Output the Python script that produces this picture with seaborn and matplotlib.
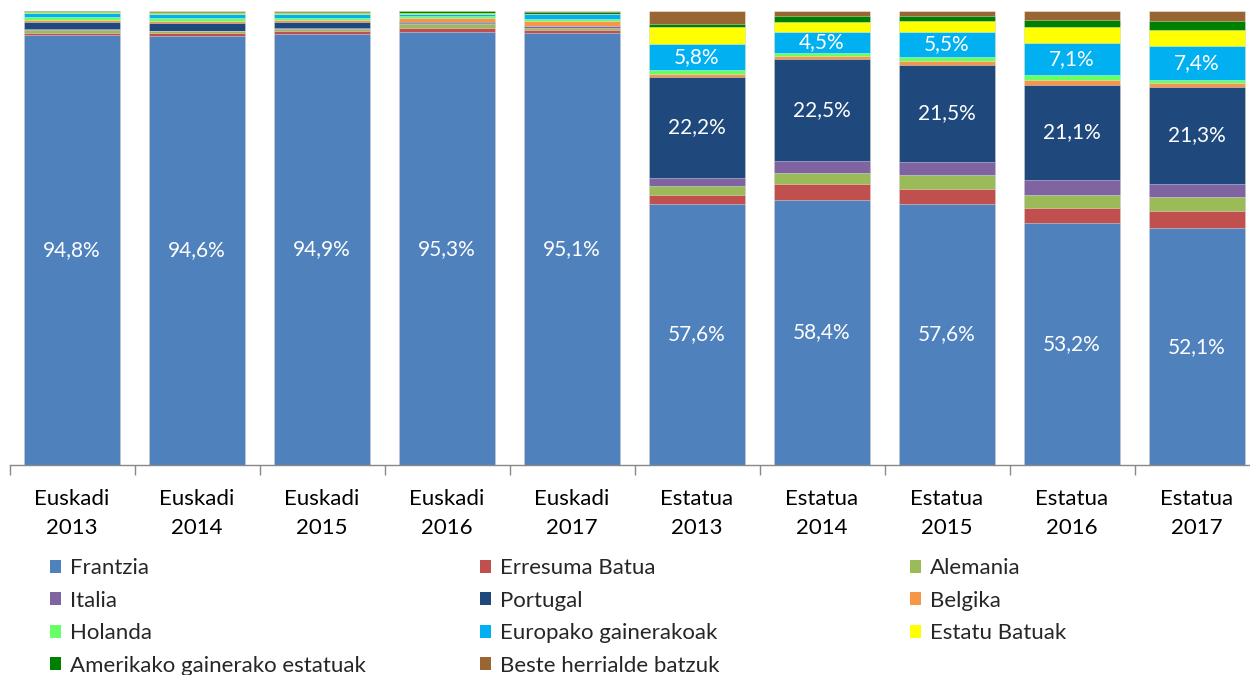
import numpy as np
import pandas as pd
import matplotlib
matplotlib.use("Agg")
import matplotlib.pyplot as plt
import matplotlib.patches as mpatches
import seaborn as sns

# Categories (region / year)
categories = ["Euskadi\n2013", "Euskadi\n2014", "Euskadi\n2015", "Euskadi\n2016", "Euskadi\n2017",
              "Estatua\n2013", "Estatua\n2014", "Estatua\n2015", "Estatua\n2016", "Estatua\n2017"]

# Share of each origin country (%), one value per category
frantzia = [94.8, 94.6, 94.9, 95.3, 95.1, 57.6, 58.4, 57.6, 53.2, 52.1]
erresuma_batua = [0.4, 0.5, 0.6, 1.0, 0.7, 1.8, 3.4, 3.3, 3.4, 3.9]
alemania = [0.6, 0.4, 0.6, 0.8, 0.5, 2.0, 2.6, 2.9, 2.8, 3.0]
italia = [0.2, 0.2, 0.2, 0.3, 0.3, 1.9, 2.5, 2.9, 3.3, 3.0]
portugal = [1.5, 1.6, 1.3, 0.2, 0.2, 22.2, 22.5, 21.5, 21.1, 21.3]
belgika = [0.6, 0.6, 0.4, 0.9, 0.9, 0.7, 0.7, 0.8, 1.1, 0.9]
holanda = [0.5, 0.5, 0.5, 0.4, 0.6, 0.7, 0.7, 0.9, 1.0, 0.7]
europako_gainerakoak = [1.0, 1.0, 0.8, 0.5, 1.0, 5.8, 4.5, 5.5, 7.1, 7.4]
estatu_batuak = [0.2, 0.2, 0.3, 0.2, 0.1, 3.7, 2.3, 2.3, 3.4, 3.5]
amerikako_gainerakoak = [0.1, 0.2, 0.2, 0.3, 0.4, 0.7, 1.2, 1.1, 1.6, 1.9]
beste_herrialdeak = [0.1, 0.2, 0.2, 0.1, 0.2, 2.9, 1.2, 1.2, 2.0, 2.2]

series_names = ["Frantzia", "Erresuma Batua", "Alemania", "Italia", "Portugal", "Belgika",
                "Holanda", "Europako gainerakoak", "Estatu Batuak",
                "Amerikako gainerako estatuak", "Beste herrialde batzuk"]
series_values = [frantzia, erresuma_batua, alemania, italia, portugal, belgika,
                 holanda, europako_gainerakoak, estatu_batuak,
                 amerikako_gainerakoak, beste_herrialdeak]
series_colors = ["#4F81BD", "#C0504D", "#9BBB59", "#8064A2", "#1F497D", "#F79646",
                 "#66FF66", "#00B0F0", "#FFFF00", "#008000", "#996633"]

# Segments that carry a value label
labelled_series = {"Frantzia": range(10), "Portugal": range(5, 10),
                   "Europako gainerakoak": range(5, 10)}

sns.set_theme(style="white")
plt.rcParams["font.family"] = ["Lato", "DejaVu Sans"]

fig = plt.figure(figsize=(12.5, 6.75), dpi=100)
ax = fig.add_axes([0.0076, 0.3111, 1.0, 0.6726])

vals = np.array(series_values)
cum = np.cumsum(vals, axis=0)

# Stack: draw the tallest cumulative bar first, then each lower layer on top of it
for i in range(len(series_names) - 1, -1, -1):
    df = pd.DataFrame({"cat": categories, "top": cum[i]})
    sns.barplot(data=df, x="cat", y="top", order=categories, color=series_colors[i],
                saturation=1, width=0.77, edgecolor=(1, 1, 1, 0.45), linewidth=0.6,
                ax=ax, errorbar=None)

# Value labels in the middle of the segments
for i, name in enumerate(series_names):
    if name in labelled_series:
        for j in labelled_series[name]:
            v = vals[i, j]
            ax.text(j, cum[i, j] - v / 2, f"{v:.1f}%".replace(".", ","),
                    ha="center", va="center", color="white", fontsize=15)

ax.set_ylim(0, 100)
ax.set_xlim(-0.5, len(categories) - 0.5)
ax.set_xlabel("")
ax.set_ylabel("")
ax.set_yticks([])
for side in ["top", "right", "left"]:
    ax.spines[side].set_visible(False)
ax.spines["bottom"].set_color("#888888")
ax.spines["bottom"].set_linewidth(1.0)

ax.set_xticks(range(len(categories)))
ax.set_xticklabels(categories, fontsize=16, color="black", linespacing=1.55)
ax.tick_params(axis="x", which="major", length=0, pad=17.5)
ax.set_xticks(np.arange(-0.5, len(categories), 1.0), minor=True)
ax.tick_params(axis="x", which="minor", length=7, width=1.0, color="#888888", direction="out")
ax.tick_params(axis="x", which="minor", bottom=True)

# Legend laid out in three columns, filled row by row
handles = [mpatches.Patch(facecolor=c, edgecolor="none", label=n)
           for n, c in zip(series_names, series_colors)]
col_x = [0.040, 0.384, 0.728]
for c in range(3):
    idx = list(range(c, len(handles), 3))
    fig.legend(handles=[handles[k] for k in idx], loc="upper left",
               bbox_to_anchor=(col_x[c], 0.173), frameon=False,
               fontsize=16, handlelength=0.5, handleheight=0.5,
               handletextpad=0.4, labelspacing=0.56, borderaxespad=0, borderpad=0)

fig.savefig("out.png", dpi=100)
